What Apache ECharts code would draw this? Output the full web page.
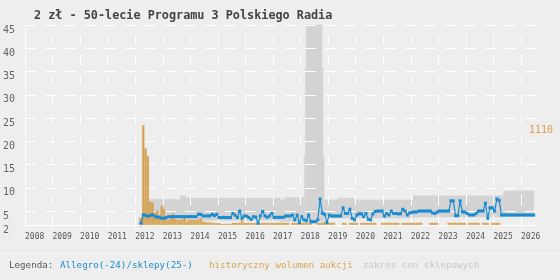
<!DOCTYPE html>
<html><head><meta charset="utf-8">
<script src="https://cdn.jsdelivr.net/npm/echarts@6/dist/echarts.min.js"></script>
<style>html,body{margin:0;padding:0;background:#eeeeee}#c{width:560px;height:280px}</style>
</head><body><div id="c"></div>
<script>
const chartTitle = '2 zł - 50-lecie Programu 3 Polskiego Radia';
const yearTicks = [2008,2009,2010,2011,2012,2013,2014,2015,2016,2017,2018,2019,2020,2021,2022,2023,2024,2025,2026];
const priceTicks = [2,5,10,15,20,25,30,35,40,45];
const legendLabels = ['Allegro(-24)/sklepy(25-)', 'historyczny wolumen aukcji', 'zakres cen sklepowych'];

// monthly Allegro/shop price (zł), first month below
const priceStartMonth = '2012-03';
const priceValues = [
  2.4, 4.2, 4.1, 3.9, 4.0, 4.2, 3.9, 3.7, 3.7, 3.45, 3.45, 3.6, 3.8,
  3.8, 3.8, 3.8, 3.8, 3.8, 3.8, 3.8, 3.8, 3.8, 3.8, 3.8, 3.8,
  4.3, 4.3, 3.95, 3.95, 3.95, 3.95, 4.3, 4.0, 4.3,
  3.6, 3.6, 3.65, 3.6, 3.6, 3.6, 4.5, 4.1, 3.6, 5.0, 3.45, 3.95,
  3.9, 3.6, 3.2, 3.8, 3.7, 2.4, 3.95, 4.9, 3.95, 3.65, 3.95, 4.5,
  3.6, 3.65, 3.65, 3.65, 3.65, 3.94, 3.94, 3.94, 4.15, 3.1, 4.15, 2.5,
  3.8, 3.1, 2.9, 4.15, 2.7, 2.7, 2.7, 3.1, 7.6, 4.5, 4.3, 2.5,
  4.15, 3.94, 3.94, 3.94, 3.94, 3.94, 5.7, 4.5, 4.5, 5.4, 3.4, 3.1,
  4.15, 4.4, 4.4, 3.8, 4.5, 3.2, 3.1, 4.4, 4.9, 5.0, 5.0, 5.0,
  3.9, 4.5, 4.15, 5.0, 4.5, 4.5, 4.4, 4.4, 5.4, 5.0, 4.15, 4.6,
  4.7, 4.8, 4.8, 5.0, 5.0, 5.0, 5.0, 5.0, 5.0, 4.6, 4.5, 4.8,
  5.0, 5.0, 5.0, 5.0, 5.0, 7.2, 7.2, 4.0, 4.0, 7.2, 4.8, 4.8,
  4.5, 4.15, 4.15, 4.15, 4.5, 5.0, 5.0, 5.0, 6.7, 3.45, 5.7, 5.7,
  5.0, 7.6, 7.3, 4.15, 4.15, 4.15, 4.15, 4.15, 4.15, 4.15, 4.15, 4.15,
  4.15, 4.15, 4.15, 4.15, 4.15, 4.15
];

// monthly auction volume, first month below
const volumeStartMonth = '2012-03';
const volumeValues = [
  75, 1110, 850, 765, 260, 250, 130, 160, 95, 210, 180, 60,
  55, 100, 130, 65, 55, 55, 65, 100, 40, 60, 60, 55,
  55, 60, 75, 40, 35, 30, 30, 26, 24, 22, 22, 12,
  12, 12, 12, 12, 25, 25, 25, 25, 55, 25, 25, 25,
  25, 22, 25, 25, 22, 25, 25, 25, 22, 25, 25, 25,
  25, 25, 25, 25, 25, 0, 25, 25, 25, 25, 25, 25,
  25, 25, 25, 0, 0, 25, 25, 25, 35, 25, 25, 25,
  25, 0, 0, 0, 25, 25, 0, 25, 25, 25, 25, 0,
  25, 25, 25, 25, 25, 25, 25, 0, 0, 25, 25, 25,
  25, 25, 25, 25, 25, 0, 25, 25, 25, 25, 25, 25,
  25, 25, 25, 0, 0, 0, 25, 25, 25, 25, 0, 0,
  0, 0, 25, 25, 25, 25, 25, 25, 25, 25, 0, 25,
  25, 25, 25, 25, 0, 25, 25, 25, 0, 25, 25, 25,
  25
];

// shop price range (zł): start year, end year, low, high
const bandStart = [2012.12, 2012.28, 2013.64, 2013.84, 2014.04, 2017.25, 2017.43, 2018.15, 2018.18, 2018.21, 2018.78, 2018.81, 2018.85, 2019.37, 2019.92, 2022.10, 2025.37];
const bandEnd   = [2012.28, 2013.64, 2013.84, 2014.04, 2017.25, 2017.43, 2018.15, 2018.18, 2018.21, 2018.78, 2018.81, 2018.85, 2019.37, 2019.92, 2022.10, 2025.37, 2026.46];
const bandLow   = [1.7, 3.0, 3.0, 3.0, 3.0, 2.8, 2.8, 2.8, 2.8, 2.8, 2.8, 2.8, 3.5, 3.5, 3.5, 3.7, 3.8];
const bandHigh  = [3.6, 7.5, 8.25, 7.9, 7.75, 7.4, 7.9, 17, 35.8, 47, 35.8, 16.7, 7.4, 7.75, 7.4, 8.3, 9.3];

function monthMid(start, i) {
  const p = start.split('-').map(Number);
  return p[0] + (p[1] - 1 + i + 0.5) / 12;
}
const priceData = priceValues.map((v, i) => [monthMid(priceStartMonth, i), v]);
const volumeData = volumeValues.map((v, i) => [monthMid(volumeStartMonth, i), v === 0 ? null : v]);
const bandData = bandStart.map((s, i) => [s, bandEnd[i], bandLow[i], bandHigh[i]]);
const volMax = Math.max.apply(null, volumeValues);

const BLUE = '#1a8bd0', ORANGE = '#d6a456', BAND = '#d3d3d3';
const MONO = '"DejaVu Sans Mono", monospace';
const GRID = {left: 25, top: 25, width: 512, height: 200};
const X_MIN = 2008, X_MAX = 2026.58;
const monthPx = GRID.width / (X_MAX - X_MIN) / 12;

const chart = echarts.init(document.getElementById('c'), null, {renderer: 'canvas'});
chart.setOption({
  animation: false,
  backgroundColor: '#eeeeee',
  title: {
    text: chartTitle, left: 29, top: 5,
    textStyle: {fontFamily: MONO, fontSize: 11.8, fontWeight: 'bold', color: '#444'}
  },
  grid: Object.assign({containLabel: false}, GRID),
  xAxis: {
    type: 'value', min: X_MIN, max: X_MAX,
    axisLine: {show: true, lineStyle: {color: '#ffffff', width: 1}},
    axisTick: {show: true, length: 3, customValues: yearTicks, lineStyle: {color: '#ffffff'}},
    axisLabel: {customValues: yearTicks, formatter: v => String(v), align: 'left', margin: 8,
      fontFamily: MONO, fontSize: 8, color: '#555'},
    splitLine: {show: true, lineStyle: {color: '#ffffff', width: 1, type: [10, 10], dashOffset: 10}}
  },
  yAxis: [{
    type: 'value', min: 2, max: 45, position: 'left',
    axisLine: {show: true, lineStyle: {color: '#ffffff', width: 1}},
    axisTick: {show: false, customValues: priceTicks},
    axisLabel: {customValues: priceTicks, align: 'left', margin: 22, verticalAlign: 'top',
      fontFamily: MONO, fontSize: 10, color: v => (v === 2 ? '#000' : '#666')},
    splitLine: {show: true, lineStyle: {color: '#ffffff', width: 1, type: [11, 9]}}
  }, {
    type: 'value', min: 0, max: volMax * 2, interval: volMax, position: 'right', offset: -8,
    axisLine: {show: false}, axisTick: {show: false}, splitLine: {show: false},
    axisLabel: {formatter: v => (v === volMax ? String(v) : ''), align: 'left', margin: 0,
      verticalAlign: 'top', fontFamily: MONO, fontSize: 10, color: '#d9a04a'}
  }],
  series: [{
    type: 'custom', name: legendLabels[2], z: -1, xAxisIndex: 0, yAxisIndex: 0,
    encode: {x: [0, 1], y: [2, 3]},
    data: bandData,
    renderItem: function (params, api) {
      const p0 = api.coord([api.value(0), api.value(3)]);
      const p1 = api.coord([api.value(1), api.value(2)]);
      const cs = params.coordSys;
      const r = echarts.graphic.clipRectByRect(
        {x: p0[0], y: p0[1], width: p1[0] - p0[0], height: p1[1] - p0[1]},
        {x: cs.x, y: cs.y, width: cs.width, height: cs.height + 2});
      return r && {type: 'rect', shape: r, style: {fill: BAND, stroke: BAND, lineWidth: 0.6}};
    }
  }, {
    type: 'bar', name: legendLabels[1], xAxisIndex: 0, yAxisIndex: 1, z: 2,
    data: volumeData, barWidth: monthPx, barGap: '0%', barCategoryGap: '0%',
    itemStyle: {color: ORANGE, borderColor: ORANGE, borderWidth: 0.5}
  }, {
    type: 'line', name: legendLabels[0], xAxisIndex: 0, yAxisIndex: 0, z: 3,
    data: priceData, symbol: 'rect', symbolSize: 3, showAllSymbol: true,
    lineStyle: {color: BLUE, width: 1.2}, itemStyle: {color: BLUE}
  }],
  graphic: [
    {type: 'line', shape: {x1: 0, y1: 253.5, x2: 560, y2: 253.5}, style: {stroke: '#f8f8f8', lineWidth: 1}},
    {type: 'text', left: 9, top: 261, style: {text: 'Legenda:', fontFamily: MONO, fontSize: 9.2, fill: '#555'}},
    {type: 'text', left: 60, top: 261, style: {text: legendLabels[0], fontFamily: MONO, fontSize: 9.2, fill: BLUE}},
    {type: 'text', left: 209, top: 261, style: {text: legendLabels[1], fontFamily: MONO, fontSize: 9.2, fill: ORANGE}},
    {type: 'text', left: 363, top: 261, style: {text: legendLabels[2], fontFamily: MONO, fontSize: 9.2, fill: '#c8c8c8'}}
  ]
});
</script></body></html>
